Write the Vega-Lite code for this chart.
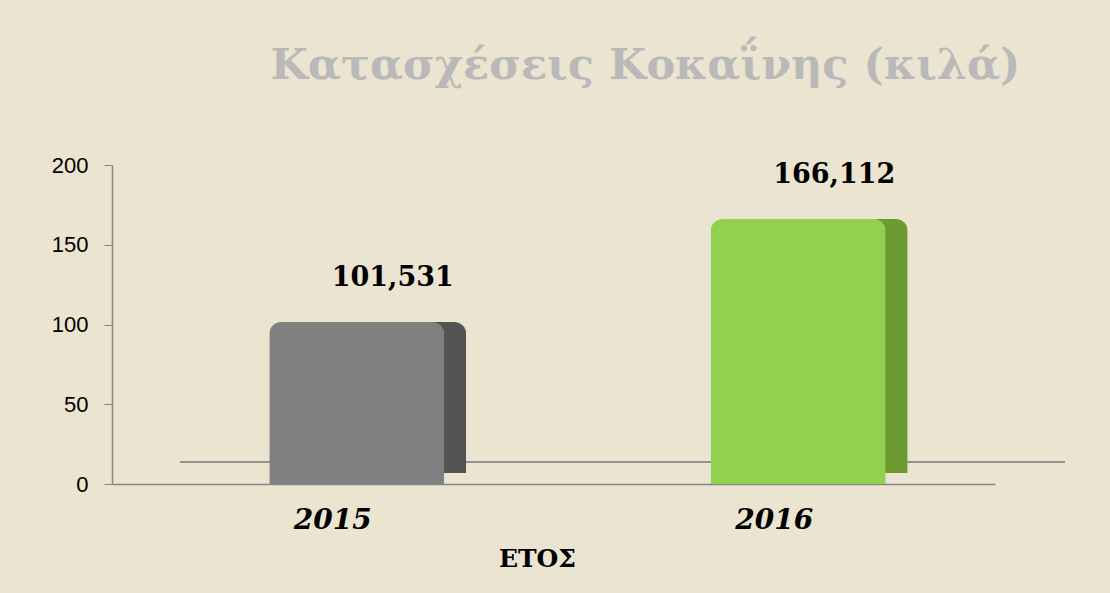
{
  "$schema": "https://vega.github.io/schema/vega-lite/v6.json",
  "width": 883,
  "height": 319,
  "autosize": {"type": "none"},
  "padding": {"left": 112, "top": 165, "right": 115, "bottom": 109},
  "background": "#EAE4D0",
  "config": {"view": {"stroke": null}},
  "title": {
    "text": "Κατασχέσεις Κοκαΐνης (κιλά)",
    "anchor": "middle",
    "dx": 92,
    "offset": 66,
    "fontSize": 43,
    "font": "DejaVu Serif",
    "fontWeight": "bold",
    "color": "#B9B9B9"
  },
  "data": {
    "values": [
      {"year": "2015", "kg": 101.531, "label": "101,531"},
      {"year": "2016", "kg": 166.112, "label": "166,112"}
    ]
  },
  "encoding": {
    "x": {
      "field": "year",
      "type": "nominal",
      "scale": {"paddingInner": 0, "paddingOuter": 0},
      "axis": {
        "title": "ΕΤΟΣ",
        "titleFont": "DejaVu Serif",
        "titleFontWeight": "bold",
        "titleFontSize": 25,
        "titleColor": "#000000",
        "titlePadding": 12,
        "titleX": 425,
        "labelAngle": 0,
        "labelFont": "DejaVu Serif",
        "labelFontWeight": "bold",
        "labelFontStyle": "italic",
        "labelFontSize": 28,
        "labelColor": "#000000",
        "labelPadding": 22,
        "ticks": false,
        "domainColor": "#868686",
        "domainWidth": 1.5
      }
    },
    "y": {
      "field": "kg",
      "type": "quantitative",
      "scale": {"domain": [0, 200], "nice": false},
      "axis": {
        "title": null,
        "values": [0, 50, 100, 150, 200],
        "grid": false,
        "labelFont": "Liberation Sans",
        "labelFontSize": 22,
        "labelColor": "#000000",
        "labelPadding": 16,
        "tickSize": 8,
        "tickColor": "#868686",
        "domainColor": "#868686",
        "domainWidth": 1.5
      }
    }
  },
  "layer": [
    {
      "mark": {"type": "rule", "color": "#8C8C8C", "strokeWidth": 1.5, "xOffset": 68, "x2Offset": 70, "yOffset": -22},
      "encoding": {"x": {"value": 0}, "x2": {"value": "width"}, "y": {"datum": 0}}
    },
    {
      "mark": {"type": "bar", "size": 175, "xOffset": 46, "yOffset": -11, "cornerRadius": 12},
      "encoding": {
        "color": {"condition": {"test": "datum.year == '2016'", "value": "#6B9B30"}, "value": "#545454"}
      }
    },
    {
      "mark": {"type": "bar", "size": 175, "xOffset": 24, "cornerRadiusTopLeft": 12, "cornerRadiusTopRight": 12},
      "encoding": {
        "color": {"condition": {"test": "datum.year == '2016'", "value": "#92D050"}, "value": "#808080"}
      }
    },
    {
      "mark": {"type": "text", "font": "DejaVu Serif", "fontWeight": "bold", "fontSize": 27, "color": "#000000", "baseline": "bottom", "dx": 60, "dy": -30},
      "encoding": {"text": {"field": "label"}}
    }
  ]
}
